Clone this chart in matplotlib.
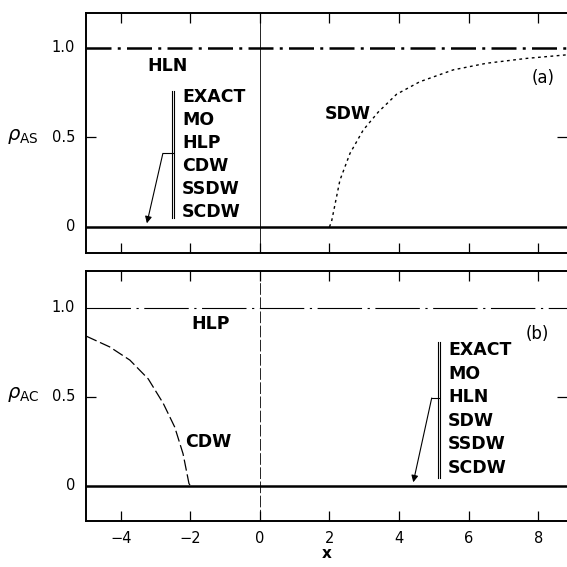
import matplotlib
matplotlib.use("Agg")
import matplotlib.pyplot as plt

# SDW order parameter in panel (a)
sdw_x = [2.0, 2.06, 2.30, 2.59, 2.97, 3.40, 3.93, 4.60, 5.56, 6.52, 7.67, 8.83]
sdw_y = [0.0, 0.03, 0.26, 0.41, 0.54, 0.64, 0.74, 0.81, 0.876, 0.913, 0.94, 0.96]

# CDW order parameter in panel (b)
cdw_x = [-4.99, -4.32, -3.74, -3.21, -2.78, -2.45, -2.21, -2.04, -2.0]
cdw_y = [0.84, 0.78, 0.706, 0.60, 0.463, 0.33, 0.18, 0.013, 0.0]

xticks = [-4, -2, 0, 2, 4, 6, 8]
yticks = [0, 0.5, 1.0]
ytick_labels = ["0", "0.5", "1.0"]

zero_group_a = ["EXACT", "MO", "HLP", "CDW", "SSDW", "SCDW"]
zero_group_b = ["EXACT", "MO", "HLN", "SDW", "SSDW", "SCDW"]

fig = plt.figure(figsize=(5.67, 5.67), dpi=100)
ax_a = fig.add_axes([0.1517, 0.554, 0.8483, 0.423])
ax_b = fig.add_axes([0.1517, 0.081, 0.8483, 0.441])

label_font = dict(fontsize=12.5, fontweight="bold")


def style_axes(ax, ylim, show_x):
    ax.set_xlim(-5.0, 8.83)
    ax.set_ylim(*ylim)
    for side in ("left", "top", "bottom"):
        ax.spines[side].set_linewidth(1.4)
    ax.spines["right"].set_visible(False)
    ax.set_xticks(xticks)
    ax.set_yticks([0.5])
    ax.set_yticklabels([])
    ax.tick_params(axis="x", direction="in", top=True, bottom=True,
                   length=7, width=0.9, labelsize=10.5, pad=7,
                   labelbottom=show_x)
    ax.tick_params(axis="y", direction="in", left=True, right=True,
                   length=7, width=0.9)
    # value labels on the y axis, including the levels drawn as lines
    for v, s in zip(yticks, ytick_labels):
        ax.text(-0.023, v, s, transform=ax.get_yaxis_transform(),
                ha="right", va="center", fontsize=10.5)


def zero_group(ax, names, x_text, y_top, dy, x_bar, bar_lo, bar_hi,
               elbow, tip):
    for i, name in enumerate(names):
        ax.text(x_text, y_top - i * dy, name, ha="left", va="center",
                **label_font)
    for off in (-0.03, 0.03):
        ax.plot([x_bar + off, x_bar + off], [bar_lo, bar_hi],
                color="black", lw=0.8)
    ax.plot([x_bar, elbow[0]], [elbow[1], elbow[1]], color="black", lw=0.8)
    ax.annotate("", xy=tip, xytext=elbow,
                arrowprops=dict(arrowstyle="-|>", lw=0.8, color="black",
                                mutation_scale=10, shrinkA=0, shrinkB=0))


# panel (a)
style_axes(ax_a, (-0.145, 1.193), False)
ax_a.axhline(0, color="black", lw=1.8)
ax_a.axhline(1.0, color="black", lw=1.8, linestyle=(0, (10, 2.5, 1.2, 2.5)))
ax_a.axvline(0, color="black", lw=0.6)
ax_a.plot(sdw_x, sdw_y, color="black", lw=1.0, linestyle=(0, (2, 2.5)))
ax_a.text(-3.25, 0.9, "HLN", ha="left", va="center", **label_font)
ax_a.text(1.87, 0.63, "SDW", ha="left", va="center", **label_font)
ax_a.text(7.8, 0.83, "(a)", ha="left", va="center", fontsize=12)
zero_group(ax_a, zero_group_a, -2.24, 0.722, 0.128, -2.50, 0.05, 0.76,
           (-2.79, 0.41), (-3.25, 0.02))

# panel (b)
style_axes(ax_b, (-0.198, 1.206), True)
ax_b.axhline(0, color="black", lw=1.8)
ax_b.axhline(1.0, color="black", lw=0.8, linestyle=(0, (40, 5, 2, 5)))
ax_b.axvline(0, color="black", lw=0.6, linestyle=(0, (14, 3)))
ax_b.plot(cdw_x, cdw_y, color="black", lw=0.9, linestyle=(0, (9, 3)))
ax_b.text(-1.96, 0.91, "HLP", ha="left", va="center", **label_font)
ax_b.text(-2.16, 0.245, "CDW", ha="left", va="center", **label_font)
ax_b.text(7.63, 0.85, "(b)", ha="left", va="center", fontsize=12)
zero_group(ax_b, zero_group_b, 5.41, 0.762, 0.132, 5.15, 0.043, 0.807,
           (4.94, 0.493), (4.41, 0.02))

ax_b.set_xticklabels([str(t).replace("-", "\u2212") for t in xticks])
ax_b.set_xlabel("x", fontsize=11, fontweight="bold", labelpad=0)

fig.text(23 / 567, 1 - 137 / 567, r"$\rho_{\rm AS}$", fontsize=14,
         ha="center", va="center")
fig.text(23 / 567, 1 - 395 / 567, r"$\rho_{\rm AC}$", fontsize=14,
         ha="center", va="center")

fig.savefig("out.png", dpi=100)
